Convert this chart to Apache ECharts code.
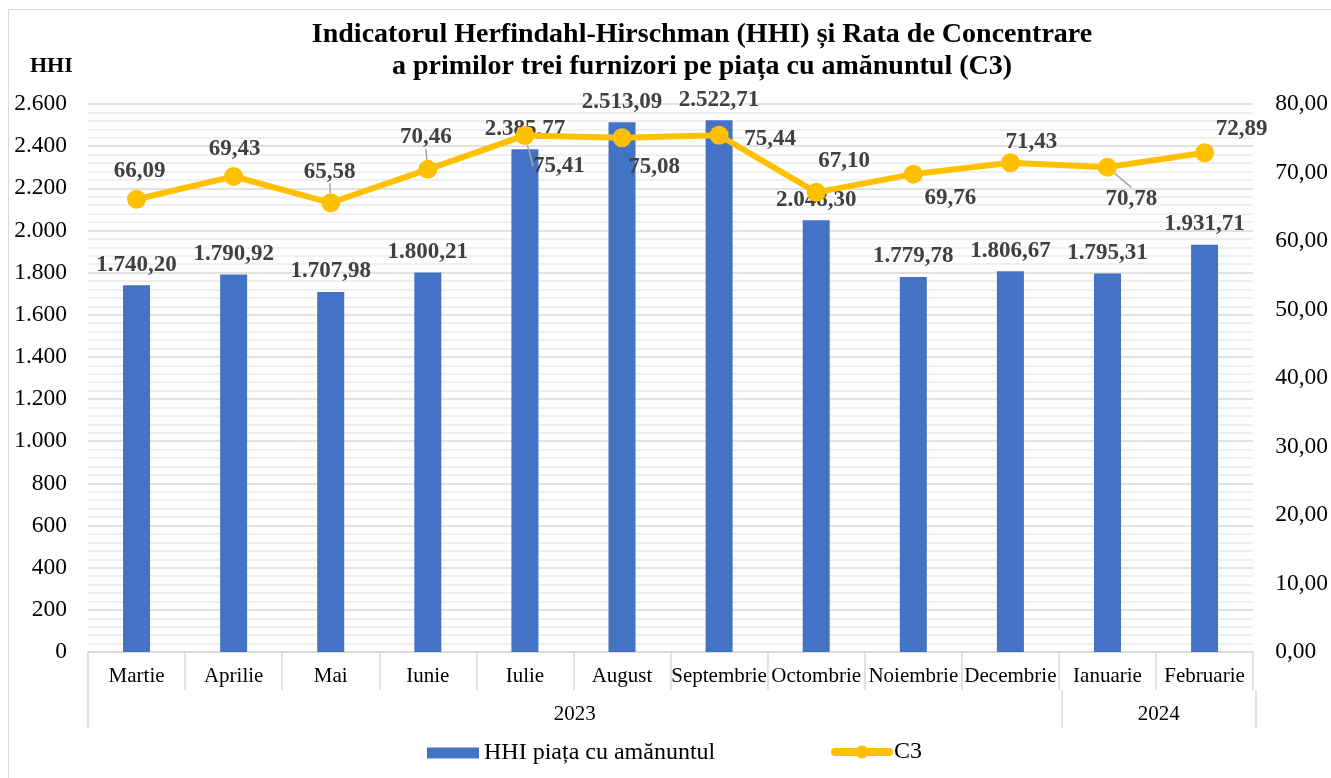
<!DOCTYPE html>
<html>
<head>
<meta charset="utf-8">
<script src="https://cdn.jsdelivr.net/npm/echarts@6/dist/echarts.min.js"></script>
<style>
    html, body { margin: 0; padding: 0; background: #fff; overflow: hidden; }
    #chart { width: 1331px; height: 778px; }
    #frame { position: absolute; left: 8px; top: 9px; width: 1400px; height: 790px; border: 1px solid #d9d9d9; pointer-events: none; }
</style>
</head>
<body>
<div id="chart"></div>
<div id="frame"></div>
<script>
// date
const months = ['Martie', 'Aprilie', 'Mai', 'Iunie', 'Iulie', 'August', 'Septembrie', 'Octombrie', 'Noiembrie', 'Decembrie', 'Ianuarie', 'Februarie'];
const years = ['2023', '2024'];
const yearStart = [0, 10];   // indexul primei luni din fiecare an
const hhiValues = [1740.20, 1790.92, 1707.98, 1800.21, 2385.77, 2513.09, 2522.71, 2048.30, 1779.78, 1806.67, 1795.31, 1931.71];
const c3Values = [66.09, 69.43, 65.58, 70.46, 75.41, 75.08, 75.44, 67.10, 69.76, 71.43, 70.78, 72.89];

// pozitia etichetelor C3 fata de punct (dx, dy)
const c3LabelOffsets = [[3, -28], [1, -27], [-1, -31], [-2, -32], [34, 31], [32, 29], [51, 4], [28, -31], [37, 24], [21, -21], [24, 32], [37, -24]];
const c3Leaders = [2, 3, 4, 10];

const serif = '"Liberation Serif", "Times New Roman", serif';

function fmtNum(v, dec) {
    const parts = v.toFixed(dec).split('.');
    parts[0] = parts[0].replace(/\B(?=(\d{3})+(?!\d))/g, '.');
    return dec ? parts[0] + ',' + parts[1] : parts[0];
}

// limitele si mijloacele grupelor de ani, in unitati de luna
const yearEnds = yearStart.map((s, i) => i + 1 < yearStart.length ? yearStart[i + 1] : months.length);
const yearBounds = [...yearStart, months.length];
const yearMids = yearStart.map((s, i) => (s + yearEnds[i]) / 2);

const chart = echarts.init(document.getElementById('chart'));
const option = {
    animation: false,
    title: [
        {
            text: 'Indicatorul Herfindahl-Hirschman (HHI) și Rata de Concentrare\na primilor trei furnizori pe piața cu amănuntul (C3)',
            left: 697,
            top: 14,
            textAlign: 'center',
            textStyle: { fontFamily: serif, fontSize: 28, fontWeight: 'bold', color: '#000', lineHeight: 32 }
        },
        {
            text: 'HHI',
            left: 25,
            top: 50,
            textStyle: { fontFamily: serif, fontSize: 22, fontWeight: 'bold', color: '#000' }
        }
    ],
    legend: [
        {
            data: [{ name: 'HHI piața cu amănuntul', icon: 'rect' }],
            left: 422,
            top: 736,
            itemWidth: 52,
            itemHeight: 11,
            itemGap: 6,
            textStyle: { fontFamily: serif, fontSize: 24, color: '#000' }
        },
        {
            data: ['C3'],
            left: 826,
            top: 735,
            itemWidth: 54,
            itemHeight: 16,
            lineStyle: { width: 8, cap: 'round' },
            textStyle: { fontFamily: serif, fontSize: 24, color: '#000' }
        }
    ],
    grid: [
        { left: 88, right: 75, top: 104, bottom: 126 },
        // banda pentru anii de sub luni
        { left: 88, right: 75, top: 689, bottom: 88 }
    ],
    xAxis: [
        {
            type: 'category',
            gridIndex: 0,
            data: months,
            axisLine: { lineStyle: { color: '#d9d9d9', width: 1.5 } },
            axisTick: { show: true, interval: 0, length: 38, lineStyle: { color: '#d9d9d9', width: 1.5 } },
            axisLabel: { interval: 0, margin: 14, fontFamily: serif, fontSize: 21, color: '#000' }
        },
        {
            type: 'value',
            gridIndex: 1,
            position: 'bottom',
            min: 0,
            max: months.length,
            axisLine: { show: false, onZero: false },
            splitLine: { show: false },
            axisTick: {
                show: true,
                length: 38,
                customValues: yearBounds,
                lineStyle: { color: '#d9d9d9', width: 1.5 }
            },
            axisLabel: {
                customValues: yearMids,
                margin: 14,
                fontFamily: serif,
                fontSize: 21,
                color: '#000',
                formatter: (v) => years[yearMids.indexOf(v)] || ''
            }
        }
    ],
    yAxis: [
        {
            type: 'value',
            gridIndex: 0,
            min: 0,
            max: 2600,
            interval: 200,
            axisLine: { show: false },
            axisTick: { show: false },
            axisLabel: { margin: 21, fontFamily: serif, fontSize: 23.5, color: '#000', formatter: (v) => fmtNum(v, 0) },
            splitLine: { lineStyle: { color: '#d9d9d9', width: 1.5 } },
            minorTick: { show: false, splitNumber: 5 },
            minorSplitLine: { show: true, lineStyle: { color: '#ececec', width: 1.5 } }
        },
        {
            type: 'value',
            gridIndex: 0,
            min: 0,
            max: 80,
            interval: 10,
            axisLine: { show: false },
            axisTick: { show: false },
            splitLine: { show: false },
            axisLabel: { margin: 22, fontFamily: serif, fontSize: 23.5, color: '#000', formatter: (v) => fmtNum(v, 2) }
        },
        {
            type: 'value',
            gridIndex: 1,
            show: false
        }
    ],
    series: [
        {
            name: 'HHI piața cu amănuntul',
            type: 'bar',
            xAxisIndex: 0,
            yAxisIndex: 0,
            barWidth: 27,
            itemStyle: { color: '#4472C4' },
            label: {
                show: true,
                position: 'top',
                distance: 9,
                fontFamily: serif,
                fontSize: 23,
                fontWeight: 'bold',
                color: '#404040',
                formatter: (p) => fmtNum(p.value, 2)
            },
            data: hhiValues
        },
        {
            name: 'C3',
            type: 'line',
            xAxisIndex: 0,
            yAxisIndex: 1,
            symbol: 'circle',
            symbolSize: 19,
            z: 5,
            lineStyle: { color: '#FFC000', width: 6 },
            itemStyle: { color: '#FFC000' },
            label: {
                show: true,
                position: 'inside',
                fontFamily: serif,
                fontSize: 23,
                fontWeight: 'bold',
                color: '#404040',
                formatter: (p) => fmtNum(p.value, 2)
            },
            labelLine: { show: false, lineStyle: { color: '#a6a6a6', width: 1.5 } },
            labelLayout: (p) => ({ dx: c3LabelOffsets[p.dataIndex][0], dy: c3LabelOffsets[p.dataIndex][1] }),
            data: c3Values.map((v, i) => c3Leaders.includes(i) ? { value: v, labelLine: { show: true } } : v)
        }
    ]
};
chart.setOption(option);
</script>
</body>
</html>
